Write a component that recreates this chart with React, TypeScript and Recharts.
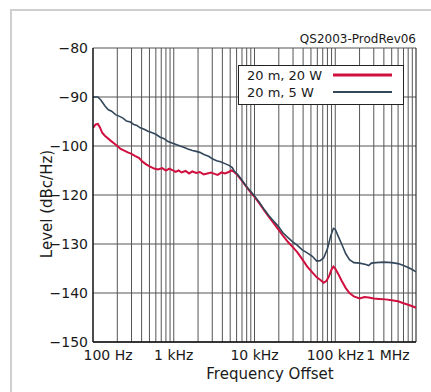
import React from 'react';
import { LineChart, Line, XAxis, YAxis, CartesianGrid, ReferenceLine, Legend } from 'recharts';

const TITLE = 'QS2003-ProdRev06';
const SERIES_NAMES = ['20 m, 20 W', '20 m, 5 W'];
const SERIES_COLORS = ['#d0103f', '#33475b'];
const X_TITLE = 'Frequency Offset';
const Y_TITLE = 'Level (dBc/Hz)';

const X_TICKS = [100, 1000, 10000, 100000, 1000000];
const X_TICK_LABELS = ['100 Hz', '1 kHz', '10 kHz', '100 kHz', '1 MHz'];
const Y_TICKS = [-150, -140, -130, -120, -110, -100, -90];
const Y_TICK_LABELS = ['\u2212150', '\u2212140', '\u2212130', '\u2212120', '\u2212100', '\u221290', '\u221280'];

const GRID_DECADES = [100, 1000, 10000, 100000];
const GRID_MULTIPLIERS = [2, 3, 4, 5, 6, 7, 8, 9, 10];

const FREQ_20W = [
  100, 108, 115, 122, 130, 140, 150, 165, 180, 200, 220, 240, 270, 300, 330, 370, 410, 460, 510, 570,
  640, 720, 800, 880, 960, 1050, 1150, 1250, 1400, 1550, 1700, 1900, 2100, 2350, 2600, 2900, 3200,
  3500, 3900, 4300, 4800, 5200, 5600, 6200, 7000, 8000, 9000, 10000, 11500, 13000, 15000, 17000,
  19500, 22500, 26000, 30000, 34000, 39000, 45000, 52000, 59000, 65000, 72000, 78000, 84000, 90000,
  95000, 100000, 108000, 120000, 135000, 150000, 170000, 200000, 230000, 260000, 300000, 350000,
  420000, 500000, 600000, 700000, 800000, 900000, 1000000,
];
const LEVEL_20W = [
  -106.3, -105.6, -105.5, -106.2, -107.3, -107.9, -108.3, -108.9, -109.4, -110.0, -110.6, -110.9,
  -111.3, -111.6, -112.0, -112.4, -113.2, -113.8, -114.2, -114.6, -114.8, -114.5, -115.0, -114.6,
  -114.9, -115.3, -115.0, -115.4, -115.1, -115.6, -115.2, -115.5, -115.3, -115.8, -115.6, -115.4,
  -115.7, -115.9, -115.4, -115.6, -115.3, -115.0, -115.3, -116.0, -117.1, -118.4, -119.5, -120.4,
  -121.7, -123.0, -124.4, -125.6, -126.9, -128.3, -129.6, -130.7, -131.7, -133.1, -134.6, -135.8,
  -136.8, -137.3, -137.9, -137.5, -136.5, -135.2, -134.6, -135.0, -136.0, -137.5, -139.0, -140.0,
  -140.7, -141.1, -140.8, -140.9, -141.1, -141.2, -141.3, -141.5, -141.7, -142.1, -142.4, -142.7,
  -143.0,
];

const FREQ_5W = [
  100, 115, 125, 140, 155, 170, 190, 210, 235, 260, 290, 320, 350, 385, 430, 480, 540, 600, 680, 760,
  850, 950, 1070, 1200, 1350, 1500, 1700, 1900, 2100, 2400, 2700, 3000, 3400, 3800, 4300, 4900, 5300,
  5600, 6200, 7000, 8000, 9000, 10000, 11500, 13000, 15000, 17000, 19500, 22500, 26000, 30000, 34000,
  39000, 45000, 52000, 59000, 65000, 72000, 80000, 88000, 95000, 100000, 108000, 120000, 135000,
  150000, 170000, 200000, 240000, 260000, 280000, 320000, 400000, 500000, 600000, 700000, 800000,
  900000, 1000000,
];
const LEVEL_5W = [
  -100.0, -100.0, -100.6, -101.8, -102.6, -102.9, -103.6, -103.9, -104.3, -104.9, -105.1, -105.6,
  -105.8, -106.3, -106.6, -107.0, -107.3, -107.6, -108.2, -108.5, -109.1, -109.4, -109.7, -110.0,
  -110.3, -110.6, -110.9, -111.1, -111.3, -111.8, -112.1, -112.6, -113.0, -113.2, -113.6, -114.0,
  -114.4, -115.1, -115.8, -117.0, -118.3, -119.3, -120.2, -121.5, -122.8, -124.2, -125.2, -126.3,
  -127.7, -128.7, -129.6, -130.3, -131.2, -131.8, -132.5, -133.5, -133.4, -132.8, -131.0, -128.3,
  -126.8, -127.0, -128.3, -130.0, -132.0, -133.2, -133.8, -133.9, -134.2, -134.4, -133.9, -133.8,
  -133.7, -133.8, -134.0, -134.4, -134.8, -135.2, -135.7,
];

const data20 = FREQ_20W.map((f, i) => ({ f, v: LEVEL_20W[i] }));
const data5 = FREQ_5W.map((f, i) => ({ f, v: LEVEL_5W[i] }));
const gridFreqs = GRID_DECADES.flatMap((d) => GRID_MULTIPLIERS.map((m) => d * m));

const FONT = 'DejaVu Sans, Arial, sans-serif';
const TEXT = '#1a1a1a';
const GRID = '#555';

const XTick = (props: any) => {
  const { x, y, payload } = props;
  const i = X_TICKS.indexOf(payload.value);
  const shift = i === 0 ? 15 : i === X_TICKS.length - 1 ? -15 : 0;
  return (
    <text x={x + shift} y={y} dy="0.71em" textAnchor="middle" fontSize={14} fontFamily={FONT} fill={TEXT}>
      {X_TICK_LABELS[i]}
    </text>
  );
};

const YTick = (props: any) => {
  const { x, y, payload } = props;
  const i = Y_TICKS.indexOf(payload.value);
  return (
    <text x={x} y={y} dy="0.355em" textAnchor="end" fontSize={14} fontFamily={FONT} fill={TEXT}>
      {Y_TICK_LABELS[i]}
    </text>
  );
};

const LegendBox = () => (
  <svg width={166} height={40} style={{ display: 'block' }}>
    <rect x={0.5} y={0.5} width={165} height={39} fill="#fff" stroke="#222" />
    {SERIES_NAMES.map((name, i) => (
      <g key={name}>
        <text x={9} y={15 + i * 17} fontSize={13} fontFamily={FONT} fill={TEXT}>
          {name}
        </text>
        <line x1={95} x2={154} y1={10 + i * 17} y2={10 + i * 17} stroke={SERIES_COLORS[i]} strokeWidth={i === 0 ? 3 : 2} />
      </g>
    ))}
  </svg>
);

export default function App() {
  return (
    <div style={{ position: 'fixed', left: 0, top: 0, width: 431, height: 392, background: '#fff', overflow: 'hidden' }}>
      <div
        style={{
          position: 'absolute',
          left: 10,
          top: 9,
          width: 440,
          height: 400,
          borderTop: '2px solid #cfcfcf',
          borderLeft: '2px solid #cfcfcf',
        }}
      />
      <svg width={431} height={392} style={{ position: 'absolute', left: 0, top: 0 }}>
        <text x={416} y={43} textAnchor="end" fontSize={12} fontFamily={FONT} fill={TEXT}>
          {TITLE}
        </text>
      </svg>
      <div style={{ position: 'absolute', left: 0, top: 0 }}>
        <LineChart width={431} height={392} margin={{ top: 48, right: 15, bottom: 0, left: 0 }}>
          <CartesianGrid vertical={false} stroke={GRID} strokeOpacity={1} fill="none" />
          {gridFreqs.map((f) => (
            <ReferenceLine key={f} x={f} stroke={f === 1000000 ? '#111' : GRID} strokeWidth={1} />
          ))}
          <XAxis
            dataKey="f"
            type="number"
            scale="log"
            domain={[100, 1000000]}
            ticks={X_TICKS}
            allowDataOverflow
            tick={<XTick />}
            tickLine={false}
            tickSize={0}
            tickMargin={8}
            height={50}
            axisLine={{ stroke: '#111', strokeWidth: 1.5 }}
            label={{
              content: () => (
                <text x={270} y={379} textAnchor="middle" fontSize={15} fontFamily={FONT} fill={TEXT}>
                  {X_TITLE}
                </text>
              ),
            }}
          />
          <YAxis
            type="number"
            domain={[-150, -90]}
            ticks={Y_TICKS}
            allowDataOverflow
            tick={<YTick />}
            tickLine={false}
            tickSize={0}
            tickMargin={5}
            width={93}
            axisLine={{ stroke: '#111', strokeWidth: 1.5 }}
            label={{
              content: () => (
                <text
                  x={52}
                  y={204}
                  transform="rotate(-90 52 204)"
                  textAnchor="middle"
                  fontSize={15}
                  fontFamily={FONT}
                  fill={TEXT}
                >
                  {Y_TITLE}
                </text>
              ),
            }}
          />
          <Legend
            layout="horizontal"
            verticalAlign="middle"
            align="center"
            content={() => <LegendBox />}
            wrapperStyle={{ position: 'absolute', left: 238, top: 65, width: 166, height: 40 }}
          />
          <Line
            data={data20}
            dataKey="v"
            name={SERIES_NAMES[0]}
            stroke={SERIES_COLORS[0]}
            strokeWidth={2}
            dot={false}
            isAnimationActive={false}
          />
          <Line
            data={data5}
            dataKey="v"
            name={SERIES_NAMES[1]}
            stroke={SERIES_COLORS[1]}
            strokeWidth={1.6}
            dot={false}
            isAnimationActive={false}
          />
        </LineChart>
      </div>
    </div>
  );
}
